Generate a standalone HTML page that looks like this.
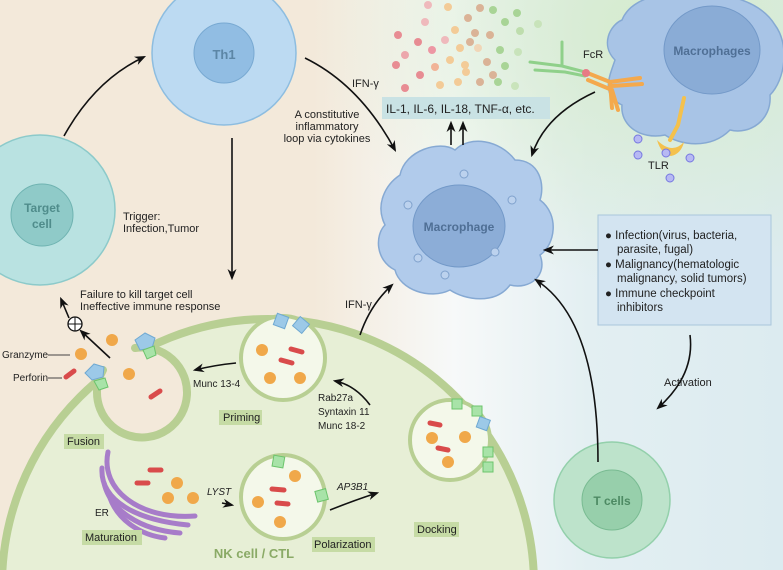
<!DOCTYPE html>
<html><head><meta charset="utf-8"><style>
html,body{margin:0;padding:0;width:783px;height:570px;overflow:hidden;background:#f3e9da}
svg{display:block;overflow:hidden;font-family:"Liberation Sans",Arial,sans-serif}
</style></head><body>
<svg width="783" height="570" viewBox="0 0 783 570" xmlns="http://www.w3.org/2000/svg">
<defs>
<linearGradient id="bg" x1="0" y1="0" x2="1" y2="0">
<stop offset="0" stop-color="#f3e9da"/><stop offset="0.4" stop-color="#f3e9da"/><stop offset="0.58" stop-color="#f7f9f9"/><stop offset="0.75" stop-color="#e3eff2"/><stop offset="1" stop-color="#dcebf0"/>
</linearGradient>
<radialGradient id="gr" cx="0.85" cy="0.05" r="0.45">
<stop offset="0" stop-color="#d5ebcc" stop-opacity="1"/><stop offset="1" stop-color="#d5ebcc" stop-opacity="0"/>
</radialGradient>
<marker id="ah" viewBox="0 0 10 10" refX="8" refY="5" markerWidth="7" markerHeight="7" orient="auto-start-reverse"><path d="M0,1 L10,5 L0,9 L3,5z" fill="#111"/></marker>
</defs>
<rect width="783" height="570" fill="url(#bg)"/>
<rect width="783" height="570" fill="url(#gr)"/>

<!-- cytokine dots -->
<g opacity="0.85">
<circle cx="398" cy="35" r="4" fill="#e77b85"/><circle cx="405" cy="55" r="4" fill="#ec9aa2"/><circle cx="396" cy="65" r="4" fill="#e77b85"/><circle cx="418" cy="42" r="4" fill="#e77b85"/><circle cx="425" cy="22" r="4" fill="#f0b0b5"/><circle cx="432" cy="50" r="4" fill="#e89"/><circle cx="420" cy="75" r="4" fill="#e77b85"/><circle cx="405" cy="88" r="4" fill="#e77b85"/><circle cx="435" cy="67" r="4" fill="#f3a98a"/><circle cx="440" cy="85" r="4" fill="#f5c58a"/>
<circle cx="428" cy="5" r="4" fill="#f0b0b5"/><circle cx="448" cy="7" r="4" fill="#f5c58a"/><circle cx="455" cy="30" r="4" fill="#f5c58a"/><circle cx="445" cy="40" r="4" fill="#f0b0b5"/><circle cx="460" cy="48" r="4" fill="#f5c58a"/><circle cx="450" cy="60" r="4" fill="#f5c58a"/><circle cx="466" cy="72" r="4" fill="#f5c58a"/><circle cx="458" cy="82" r="4" fill="#f5c58a"/>
<circle cx="468" cy="18" r="4" fill="#d9a98a"/><circle cx="475" cy="33" r="4" fill="#d9a98a"/><circle cx="480" cy="8" r="4" fill="#d9a98a"/><circle cx="470" cy="42" r="4" fill="#d9a98a"/><circle cx="465" cy="65" r="4" fill="#f5c58a"/><circle cx="478" cy="48" r="4" fill="#f3d2b0"/><circle cx="487" cy="62" r="4" fill="#d9a98a"/><circle cx="480" cy="82" r="4" fill="#d9a98a"/><circle cx="493" cy="75" r="4" fill="#d9a98a"/><circle cx="490" cy="35" r="4" fill="#d9a98a"/>
<circle cx="493" cy="10" r="4" fill="#9fd08a"/><circle cx="505" cy="22" r="4" fill="#9fd08a"/><circle cx="500" cy="50" r="4" fill="#9fd08a"/><circle cx="505" cy="66" r="4" fill="#9fd08a"/><circle cx="498" cy="82" r="4" fill="#9fd08a"/><circle cx="517" cy="13" r="4" fill="#9fd08a"/><circle cx="520" cy="31" r="4" fill="#b9dba5"/><circle cx="518" cy="52" r="4" fill="#c5e2b5"/><circle cx="515" cy="86" r="4" fill="#c5e2b5"/><circle cx="538" cy="24" r="4" fill="#c5e2b5"/>
</g>

<!-- Th1 -->
<circle cx="224" cy="53" r="72" fill="#bcdaf2" stroke="#8dbde0" stroke-width="1.5"/>
<circle cx="224" cy="53" r="30" fill="#91bde3" stroke="#78a9d2"/>
<text x="224" y="59" text-anchor="middle" font-size="13" font-weight="bold" fill="#5c86a6">Th1</text>

<!-- Target -->
<circle cx="40" cy="210" r="75" fill="#b9e2e1" stroke="#8ccaca" stroke-width="1.5"/>
<circle cx="42" cy="215" r="31" fill="#8fcac8" stroke="#6fb3b1"/>
<text x="42" y="212" text-anchor="middle" font-size="12" font-weight="bold" fill="#4f8c8b">Target</text>
<text x="42" y="228" text-anchor="middle" font-size="12" font-weight="bold" fill="#4f8c8b">cell</text>
<text x="123" y="220" font-size="11" fill="#222">Trigger:</text>
<text x="123" y="232" font-size="11" fill="#222">Infection,Tumor</text>

<!-- NK cell -->
<circle cx="268" cy="585" r="266" fill="#e7efd6" stroke="#b8cf93" stroke-width="8"/>
<text x="254" y="558" text-anchor="middle" font-size="13" font-weight="bold" fill="#8aaa66">NK cell / CTL</text>

<!-- Fusion pocket -->
<path d="M103,376 A266,266 0 0 1 135,354" fill="none" stroke="#f3e9da" stroke-width="12"/>
<path d="M103,370 A45,45 0 1 0 135,348 Z" fill="#f3e9da" stroke="none"/>
<path d="M103,370 A45,45 0 1 0 135,348" fill="none" stroke="#b8cf93" stroke-width="8" stroke-linecap="round"/>
<circle cx="283" cy="358" r="42" fill="#f4f8ea" stroke="#b8cf93" stroke-width="4"/>
<circle cx="283" cy="497" r="42" fill="#f4f8ea" stroke="#b8cf93" stroke-width="4"/>
<circle cx="450" cy="440" r="40" fill="#f4f8ea" stroke="#b8cf93" stroke-width="4"/>

<!-- receptors -->
<g fill="#9cc9e8" stroke="#6fa9d2">
<rect x="275" y="315" width="12" height="12" transform="rotate(20 281 321)"/>
<rect x="295" y="319" width="12" height="12" transform="rotate(40 301 325)"/>
<rect x="478" y="418" width="11" height="11" transform="rotate(20 483 423)"/>
<path d="M135,340 l10,-7 10,5 -3,10 -12,2z"/><path d="M85,373 l9,-9 10,3 -1,10 -11,3z"/>
</g>
<g fill="#a8e3a8" stroke="#6cc46c">
<rect x="273" y="456" width="11" height="11" transform="rotate(10 278 461)"/>
<rect x="316" y="490" width="11" height="11" transform="rotate(-15 321 495)"/>
<rect x="452" y="399" width="10" height="10"/><rect x="472" y="406" width="10" height="10"/>
<rect x="483" y="447" width="10" height="10"/><rect x="483" y="462" width="10" height="10"/>
<path d="M143,350 l11,-4 2,9 -9,4z"/><path d="M94,381 l11,-3 3,9 -9,3z"/>
</g>

<!-- granules -->
<g fill="#f0a84a">
<circle cx="262" cy="350" r="6"/><circle cx="270" cy="378" r="6"/><circle cx="300" cy="378" r="6"/>
<circle cx="295" cy="476" r="6"/><circle cx="258" cy="502" r="6"/><circle cx="280" cy="522" r="6"/>
<circle cx="432" cy="438" r="6"/><circle cx="448" cy="462" r="6"/><circle cx="465" cy="437" r="6"/>
<circle cx="112" cy="340" r="6"/><circle cx="129" cy="374" r="6"/><circle cx="81" cy="354" r="6"/>
<circle cx="177" cy="483" r="6"/><circle cx="168" cy="498" r="6"/><circle cx="193" cy="498" r="6"/>
</g>
<g stroke="#d94b4b" stroke-width="5" stroke-linecap="round">
<line x1="291" y1="349" x2="302" y2="352"/><line x1="281" y1="360" x2="292" y2="363"/>
<line x1="272" y1="489" x2="284" y2="490"/><line x1="277" y1="503" x2="288" y2="504"/>
<line x1="430" y1="423" x2="440" y2="425"/><line x1="438" y1="448" x2="448" y2="450"/>
<line x1="66" y1="377" x2="74" y2="371"/><line x1="151" y1="397" x2="160" y2="391"/>
<line x1="150" y1="470" x2="161" y2="470"/><line x1="137" y1="483" x2="148" y2="483"/>
</g>
<!-- ER -->
<g fill="none" stroke="#a77cc9" stroke-width="5" stroke-linecap="round">
<path d="M108,452 C100,490 140,520 195,516"/><path d="M102,468 C100,500 135,520 188,525"/><path d="M104,483 C110,510 140,530 180,533"/><path d="M110,498 C118,520 140,535 165,538"/>
</g>

<!-- labels NK -->
<g font-size="10" fill="#222">
<text x="2" y="358">Granzyme</text><line x1="48" y1="355" x2="70" y2="355" stroke="#444"/>
<text x="13" y="381">Perforin</text><line x1="48" y1="378" x2="62" y2="378" stroke="#444"/>
<text x="193" y="387">Munc 13-4</text>
<text x="318" y="401">Rab27a</text><text x="318" y="415">Syntaxin 11</text><text x="318" y="429">Munc 18-2</text>
<text x="95" y="516">ER</text>
<text x="207" y="495" font-style="italic">LYST</text>
<text x="337" y="490" font-style="italic">AP3B1</text>
</g>
<g font-size="11" fill="#222">
<rect x="219" y="410" width="43" height="15" fill="#c6dba5"/><text x="223" y="421">Priming</text>
<rect x="64" y="434" width="40" height="15" fill="#c6dba5"/><text x="67" y="445">Fusion</text>
<rect x="414" y="522" width="45" height="15" fill="#c6dba5"/><text x="417" y="533">Docking</text>
<rect x="82" y="530" width="60" height="15" fill="#c6dba5"/><text x="85" y="541">Maturation</text>
<rect x="312" y="537" width="63" height="15" fill="#c6dba5"/><text x="314" y="548">Polarization</text>
</g>
<text x="80" y="298" font-size="11" fill="#222">Failure to kill target cell</text>
<text x="80" y="310" font-size="11" fill="#222">Ineffective immune response</text>
<circle cx="75" cy="324" r="7" fill="#fff" stroke="#111" stroke-width="1.3"/>
<line x1="68" y1="324" x2="82" y2="324" stroke="#111"/><line x1="75" y1="317" x2="75" y2="331" stroke="#111"/>

<!-- Macrophage -->
<path d="M400,175 C405,150 440,140 455,150 C470,135 500,140 515,160 C540,160 545,185 540,200 C560,215 555,245 540,255 C548,275 530,290 510,285 C495,305 465,300 450,290 C430,300 400,290 395,270 C375,260 375,235 385,225 C375,205 385,185 400,175Z" fill="#b1cbeb" stroke="#86a9d3" stroke-width="1.5"/>
<ellipse cx="459" cy="226" rx="46" ry="41" fill="#8cadd7" stroke="#7399c8"/>
<text x="459" y="231" text-anchor="middle" font-size="12" font-weight="bold" fill="#4f6f95">Macrophage</text>
<g fill="#bcd2ee" stroke="#7fa1cc"><circle cx="464" cy="174" r="4"/><circle cx="408" cy="205" r="4"/><circle cx="512" cy="200" r="4"/><circle cx="495" cy="252" r="4"/><circle cx="418" cy="258" r="4"/><circle cx="445" cy="275" r="4"/></g>

<!-- Macrophages top right -->
<path d="M622,20 C630,0 660,-10 690,-5 C720,-10 760,0 775,25 C790,45 785,80 770,95 C772,120 750,135 730,130 C710,150 680,145 665,135 C640,140 620,125 622,105 C600,95 610,75 615,60 C600,45 610,25 622,20Z" fill="#a8c4e6" stroke="#86a9d3" stroke-width="1.5"/>
<ellipse cx="712" cy="50" rx="48" ry="44" fill="#8aacd6" stroke="#7399c8"/>
<text x="712" y="55" text-anchor="middle" font-size="12" font-weight="bold" fill="#4f6f95">Macrophages</text>
<!-- FcR -->
<g fill="none" stroke-linecap="round">
<path d="M530,62 L562,66 L585,72 M562,66 L562,42 M535,70 L565,72 L585,76" stroke="#8fd08a" stroke-width="3"/>
<path d="M585,72 L610,82 L640,78 M610,82 L612,108 M588,80 L612,90 L618,110 M612,86 L642,84" stroke="#f4a94d" stroke-width="4"/>
<path d="M684,98 L678,125 L670,140" stroke="#f4c14d" stroke-width="4"/>
</g>
<circle cx="586" cy="73" r="4" fill="#e77b85"/>
<path d="M657,140 q15,15 27,2 q-3,12 -13,14 q-10,-2 -14,-16z" fill="#f4c14d"/>
<g fill="#b7b9f3" stroke="#7678e0"><circle cx="638" cy="139" r="4"/><circle cx="638" cy="155" r="4"/><circle cx="666" cy="153" r="4"/><circle cx="690" cy="158" r="4"/><circle cx="670" cy="178" r="4"/></g>
<text x="583" y="58" font-size="11" fill="#222">FcR</text>
<text x="648" y="169" font-size="11" fill="#222">TLR</text>

<!-- IL box -->
<rect x="382" y="97" width="168" height="22" fill="#c9e2e4"/>
<text x="386" y="113" font-size="12" fill="#222">IL-1, IL-6, IL-18, TNF-α, etc.</text>

<!-- T cells -->
<circle cx="612" cy="500" r="58" fill="#bde3cb" stroke="#93d0ab" stroke-width="1.5"/>
<circle cx="612" cy="500" r="30" fill="#97cfab" stroke="#79bb92"/>
<text x="612" y="505" text-anchor="middle" font-size="12" font-weight="bold" fill="#4d8a63">T cells</text>

<!-- info box -->
<rect x="598" y="215" width="173" height="110" fill="#d3e4f1" stroke="#a9c6dc"/>
<g font-size="11.5" fill="#222">
<text x="605" y="239">● Infection(virus, bacteria,</text><text x="617" y="253">parasite, fugal)</text>
<text x="605" y="268">● Malignancy(hematologic</text><text x="617" y="282">malignancy, solid tumors)</text>
<text x="605" y="297">● Immune checkpoint</text><text x="617" y="311">inhibitors</text>
</g>
<text x="664" y="386" font-size="11" fill="#222">Activation</text>

<!-- top texts -->
<text x="352" y="87" font-size="11" fill="#222">IFN-γ</text>
<g font-size="11" fill="#222" text-anchor="middle"><text x="327" y="118">A constitutive</text><text x="327" y="130">inflammatory</text><text x="327" y="142">loop via cytokines</text></g>
<text x="345" y="308" font-size="11" fill="#222">IFN-γ</text>

<!-- arrows -->
<g fill="none" stroke="#111" stroke-width="1.6" marker-end="url(#ah)">
<path d="M64,136 Q95,80 144,57"/>
<path d="M305,58 Q360,85 395,150"/>
<path d="M232,138 L232,278"/>
<path d="M451,145 L451,123"/><path d="M463,145 L463,123"/>
<path d="M595,92 Q545,115 532,155"/>
<path d="M598,250 L545,250"/>
<path d="M690,335 Q695,375 658,408"/>
<path d="M598,462 Q598,320 536,280"/>
<path d="M360,335 Q370,305 392,285"/>
<path d="M110,358 L81,331"/>
<path d="M69,318 L61,299"/>
<path d="M236,363 Q215,365 195,370"/>
<path d="M370,405 Q355,385 335,381"/>
<path d="M222,503 L232,505"/>
<path d="M330,510 Q355,500 377,493"/>
</g>
</svg>
</body></html>
